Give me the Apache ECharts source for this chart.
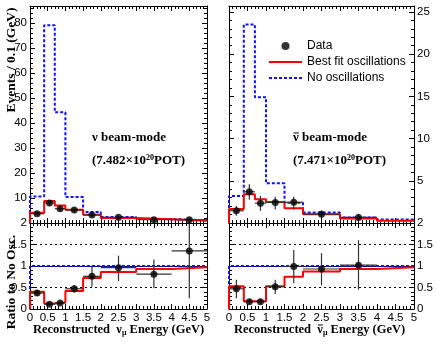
<!DOCTYPE html>
<html>
<head>
<meta charset="utf-8">
<script src="https://cdn.jsdelivr.net/npm/echarts@6/dist/echarts.min.js"></script>
<style>
html, body { margin: 0; padding: 0; background: #fff; }
#main { width: 436px; height: 345px; }
</style>
</head>
<body>
<div id="main"></div>
<script>
// binning (GeV)
var binEdges = [0, 0.4, 0.7, 1.0, 1.5, 2.0, 3.0, 4.0, 5.0];
var binCenters = [0.2, 0.55, 0.85, 1.25, 1.75, 2.5, 3.5, 4.5];

// nu beam-mode, events / 0.1 GeV
var nuNoOsc = [10.6, 79, 44.2, 10.4, 4.4, 2.4, 1.6, 1.1];
var nuBestFit = [4.1, 8.8, 7.0, 5.3, 3.3, 2.0, 1.5, 0.9];
var nuData = [3.7, 8.0, 5.7, 5.2, 3.2, 2.3, 1.3, 1.3];
var nuDataLo = [3.0, 6.8, 4.7, 4.3, 2.3, 1.6, 0.8, 0.3];
var nuDataHi = [4.4, 9.2, 6.7, 6.1, 4.1, 3.0, 1.8, 2.2];
// nu ratio to no osc
var nuRatioFit = [0.40, 0.13, 0.15, 0.42, 0.72, 0.86, 0.93, 0.97];
var nuRatio = [0.37, 0.11, 0.14, 0.47, 0.76, 0.96, 0.81, 1.35];
var nuRatioLo = [0.30, 0.08, 0.10, 0.38, 0.52, 0.65, 0.48, 0.25];
var nuRatioHi = [0.44, 0.14, 0.18, 0.56, 0.98, 1.24, 1.15, 1.98];

// anti-nu beam-mode
var nubarNoOsc = [3.2, 23.5, 14.9, 4.7, 2.4, 1.25, 0.66, 0.42];
var nubarBestFit = [1.65, 3.4, 2.8, 2.5, 1.75, 1.05, 0.54, 0.26];
var nubarData = [1.45, 3.7, 2.35, 2.43, 2.45, 1.05, 0.66];
var nubarDataLo = [0.85, 2.75, 1.45, 1.6, 1.6, 0.6, 0.3];
var nubarDataHi = [2.0, 4.6, 3.2, 3.1, 3.1, 1.5, 1.1];
var nubarRatioFit = [0.53, 0.18, 0.18, 0.53, 0.75, 0.87, 0.93, 0.97];
var nubarRatio = [0.47, 0.17, 0.17, 0.52, 0.99, 0.93, 1.02];
var nubarRatioLo = [0.25, 0.12, 0.12, 0.35, 0.60, 0.55, 0.45];
var nubarRatioHi = [0.68, 0.23, 0.23, 0.68, 1.37, 1.30, 1.60];

var noOscRatio = [1, 1, 1, 1, 1, 1, 1, 1];

var sans = 'Liberation Sans';
var serif = 'Liberation Serif';
var RED = '#ff0000', BLUE = '#1010ff';

var chart = echarts.init(document.getElementById('main'));

// text widths, for placing the bar over the anti-neutrino symbol
var mctx = document.createElement('canvas').getContext('2d');
function textW(font, s) { mctx.font = font; return mctx.measureText(s).width; }

// histogram outline points (left edge of every bin), drawn with step 'end'
function histPts(vals) {
    var pts = [[binEdges[0], 0]];
    vals.forEach(function (v, i) { pts.push([binEdges[i], v]); });
    pts.push([binEdges[binEdges.length - 1], vals[vals.length - 1]]);
    return pts;
}

function errPts(y, lo, hi) {
    return y.map(function (v, i) {
        return [binCenters[i], v, binEdges[i], binEdges[i + 1], lo[i], hi[i]];
    });
}

function xAx(grid, pos, labels) {
    return {
        type: 'value', gridIndex: grid, position: pos, min: 0, max: 5, interval: 0.5,
        axisLine: { onZero: false, lineStyle: { color: '#000', width: 1 } },
        axisTick: { inside: true, length: 5, lineStyle: { color: '#000' } },
        minorTick: { show: true, splitNumber: 5, length: 3, lineStyle: { color: '#000' } },
        axisLabel: { show: labels, color: '#000', fontFamily: sans, fontSize: 11.5, margin: 3,
            formatter: function (v) { return String(v); } },
        splitLine: { show: false }
    };
}

function yAx(grid, pos, max, interval, labels, gridLines) {
    return {
        type: 'value', gridIndex: grid, position: pos, min: 0, max: max, interval: interval,
        axisLine: { onZero: false, lineStyle: { color: '#000', width: 1 } },
        axisTick: { inside: true, length: 5, lineStyle: { color: '#000' } },
        minorTick: { show: true, splitNumber: 5, length: 3, lineStyle: { color: '#000' } },
        axisLabel: { show: labels, color: '#000', fontFamily: sans, fontSize: 11.5, margin: 3,
            showMinLabel: max <= 5, showMaxLabel: max <= 5 },
        splitLine: { show: !!gridLines, lineStyle: { color: '#000', type: [2, 3], width: 1 } }
    };
}

function histSeries(name, vals, xi, yi, color, dashed) {
    return {
        name: name, type: 'line', step: 'end', xAxisIndex: xi, yAxisIndex: yi,
        data: histPts(vals), symbol: 'none', silent: true, clip: true,
        lineStyle: { color: color, width: 2, type: dashed ? [3, 2] : 'solid' },
        itemStyle: { color: color }, z: dashed ? 3 : 4
    };
}

function errSeries(name, pts, xi, yi) {
    return {
        name: name, type: 'custom', xAxisIndex: xi, yAxisIndex: yi, data: pts, z: 5, silent: true,
        clip: true,
        renderItem: function (params, api) {
            var a = api.coord([api.value(2), api.value(1)]);
            var b = api.coord([api.value(3), api.value(1)]);
            var c = api.coord([api.value(0), api.value(4)]);
            var d = api.coord([api.value(0), api.value(5)]);
            var st = { stroke: '#333', lineWidth: 1.2 };
            return { type: 'group', children: [
                { type: 'line', shape: { x1: a[0], y1: a[1], x2: b[0], y2: b[1] }, style: st },
                { type: 'line', shape: { x1: c[0], y1: c[1], x2: d[0], y2: d[1] }, style: st }
            ] };
        }
    };
}

function dotSeries(name, y, xi, yi) {
    return {
        name: name, type: 'scatter', xAxisIndex: xi, yAxisIndex: yi, z: 6, silent: true,
        data: y.map(function (v, i) { return [binCenters[i], v]; }),
        symbol: 'circle', symbolSize: 7, itemStyle: { color: '#000' }
    };
}

// axis title with nu / nubar and subscript mu
var titleFont = 'bold 12.5px ' + serif;
function xTitle(x0, bar) {
    var w = textW(titleFont, 'Reconstructed  ');
    var wn = textW(titleFont, 'ν');
    var els = [{ type: 'text', x: x0, y: 330,
        style: { text: '{a|Reconstructed  ν}{s|μ}{a| Energy (GeV)}', fill: '#000',
                 textAlign: 'left', textVerticalAlign: 'middle',
                 rich: { a: { font: titleFont, lineHeight: 14 },
                         s: { font: 'bold 8px ' + serif, lineHeight: 5, verticalAlign: 'bottom' } } } }];
    if (bar) {
        els.push({ type: 'line', shape: { x1: x0 + w + 0.5, y1: 325, x2: x0 + w + wn, y2: 325 },
                   style: { stroke: '#000', lineWidth: 1 } });
    }
    return els;
}

function beamText(x0, label, pot, bar) {
    var f = 'bold 13px ' + serif;
    var els = [
        { type: 'text', x: x0, y: 138,
          style: { text: label, font: f, fill: '#000', textVerticalAlign: 'middle' } },
        { type: 'text', x: x0, y: 161,
          style: { text: '{a|(' + pot + '×10}{p|20}{a|POT)}', fill: '#000', textVerticalAlign: 'middle',
                   rich: { a: { font: f, lineHeight: 15 },
                           p: { font: 'bold 8px ' + serif, lineHeight: 8, verticalAlign: 'top' } } } }
    ];
    if (bar) {
        els.push({ type: 'line', shape: { x1: x0 + 0.5, y1: 133, x2: x0 + textW(f, 'ν'), y2: 133 },
                   style: { stroke: '#000', lineWidth: 1 } });
    }
    return els;
}

var leftTopMax = 86.7, rightTopMax = 25.7;

var option = {
    animation: false,
    backgroundColor: '#fff',
    grid: [
        { left: 30, top: 6, width: 177, height: 217 },
        { left: 30, top: 223, width: 177, height: 86 },
        { left: 229, top: 6, width: 185, height: 217 },
        { left: 229, top: 223, width: 185, height: 86 }
    ],
    xAxis: [
        xAx(0, 'bottom', false), xAx(0, 'top', false),
        xAx(1, 'bottom', true), xAx(1, 'top', false),
        xAx(2, 'bottom', false), xAx(2, 'top', false),
        xAx(3, 'bottom', true), xAx(3, 'top', false)
    ],
    yAxis: [
        yAx(0, 'left', leftTopMax, 10, true), yAx(0, 'right', leftTopMax, 10, false),
        yAx(1, 'left', 2, 0.5, true, true), yAx(1, 'right', 2, 0.5, false),
        yAx(2, 'left', rightTopMax, 5, false), yAx(2, 'right', rightTopMax, 5, true),
        yAx(3, 'left', 2, 0.5, false, true), yAx(3, 'right', 2, 0.5, true)
    ],
    legend: {
        left: 263, top: 33, orient: 'vertical', itemWidth: 33, itemHeight: 8, itemGap: 0,
        selectedMode: false,
        textStyle: { fontFamily: sans, fontSize: 12, color: '#000', lineHeight: 16 },
        data: [
            { name: 'Data', icon: 'circle' },
            { name: 'Best fit oscillations', itemStyle: { opacity: 0 } },
            { name: 'No oscillations', itemStyle: { opacity: 0 } }
        ]
    },
    series: [
        // nu, top
        histSeries('No oscillations', nuNoOsc, 0, 0, BLUE, true),
        histSeries('Best fit oscillations', nuBestFit, 0, 0, RED, false),
        errSeries('Data err', errPts(nuData, nuDataLo, nuDataHi), 0, 0),
        dotSeries('Data', nuData, 0, 0),
        // nu, ratio
        histSeries('No oscillations', noOscRatio, 2, 2, BLUE, true),
        histSeries('Best fit oscillations', nuRatioFit, 2, 2, RED, false),
        errSeries('Data err', errPts(nuRatio, nuRatioLo, nuRatioHi), 2, 2),
        dotSeries('Data', nuRatio, 2, 2),
        // nubar, top
        histSeries('No oscillations', nubarNoOsc, 4, 5, BLUE, true),
        histSeries('Best fit oscillations', nubarBestFit, 4, 5, RED, false),
        errSeries('Data err', errPts(nubarData, nubarDataLo, nubarDataHi), 4, 5),
        dotSeries('Data', nubarData, 4, 5),
        // nubar, ratio
        histSeries('No oscillations', noOscRatio, 6, 7, BLUE, true),
        histSeries('Best fit oscillations', nubarRatioFit, 6, 7, RED, false),
        errSeries('Data err', errPts(nubarRatio, nubarRatioLo, nubarRatioHi), 6, 7),
        dotSeries('Data', nubarRatio, 6, 7)
    ],
    graphic: [
        { type: 'text', x: 12, y: 60, rotation: Math.PI / 2,
          style: { text: 'Events / 0.1 (GeV)', font: 'bold 13.5px ' + serif, fill: '#000',
                   textAlign: 'center', textVerticalAlign: 'middle' } },
        { type: 'text', x: 12, y: 282, rotation: Math.PI / 2,
          style: { text: 'Ratio to No Osc.', font: 'bold 13.5px ' + serif, fill: '#000',
                   textAlign: 'center', textVerticalAlign: 'middle' } }
    ].concat(xTitle(33, false), xTitle(234, true),
             beamText(92, 'ν beam-mode', '7.482', false),
             beamText(293, 'ν beam-mode', '7.471', true))
};

chart.setOption(option);
</script>
</body>
</html>
